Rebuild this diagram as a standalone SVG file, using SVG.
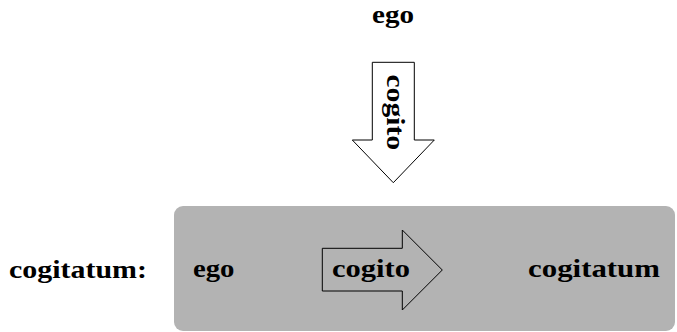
<svg xmlns="http://www.w3.org/2000/svg" width="677" height="332" viewBox="0 0 677 332">
  <style>
    .lbl { font-family: "Liberation Serif", "DejaVu Serif", serif; font-weight: bold; font-size: 25px; fill: #000; }
    .arrow { stroke: #000; stroke-width: 1; stroke-linejoin: miter; }
  </style>
  <rect width="677" height="332" fill="#ffffff"/>
  <g id="top-ego">
    <text class="lbl" x="372" y="23" textLength="42" lengthAdjust="spacingAndGlyphs">ego</text>
  </g>
  <g id="cogito-down">
    <polygon class="arrow" fill="#ffffff" points="372.3,62.3 414.3,62.3 414.3,140 434.3,140 393.3,182.7 352.3,140 372.3,140"/>
    <text class="lbl" transform="translate(386.5,74.5) rotate(90)" x="0" y="0" textLength="75.5" lengthAdjust="spacingAndGlyphs">cogito</text>
  </g>
  <g id="cogitatum-label">
    <text class="lbl" x="9" y="277.5" textLength="138" lengthAdjust="spacingAndGlyphs">cogitatum:</text>
  </g>
  <g id="box">
    <rect x="174" y="206" width="501" height="125" rx="9" ry="9" fill="#b3b3b3"/>
  </g>
  <g id="box-ego">
    <text class="lbl" x="193" y="277" textLength="41.5" lengthAdjust="spacingAndGlyphs">ego</text>
  </g>
  <g id="cogito-right">
    <polygon class="arrow" fill="none" points="322.3,248.3 402.3,248.3 402.3,230 442.3,270 402.3,310 402.3,291 322.3,291"/>
    <text class="lbl" x="332" y="277" textLength="78" lengthAdjust="spacingAndGlyphs">cogito</text>
  </g>
  <g id="box-cogitatum">
    <text class="lbl" x="528" y="277" textLength="132" lengthAdjust="spacingAndGlyphs">cogitatum</text>
  </g>
  <g id="connectors"></g>
</svg>
